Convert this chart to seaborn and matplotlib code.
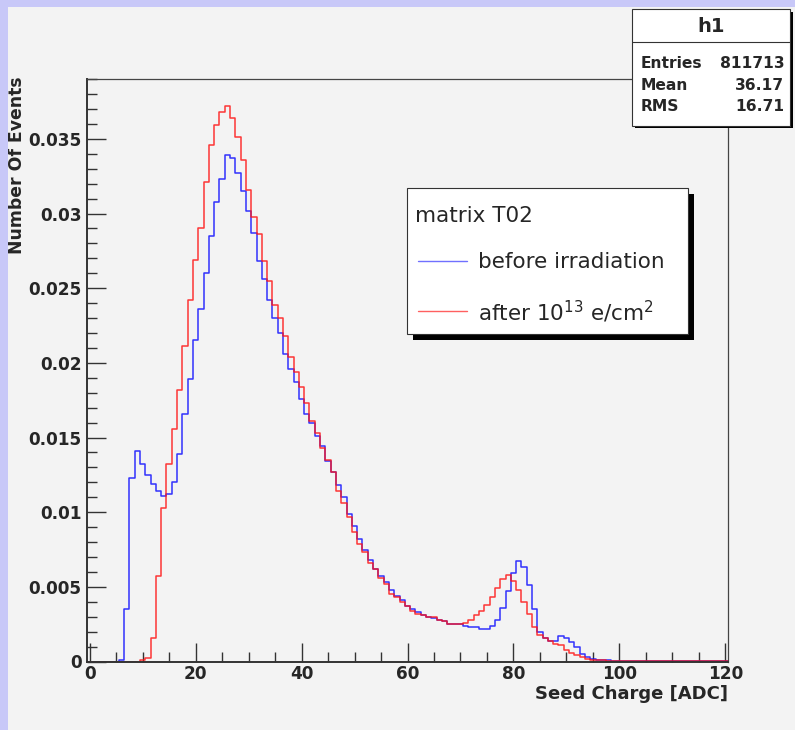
import numpy as np
import pandas as pd
import seaborn as sns
import matplotlib.pyplot as plt
from matplotlib.patches import Rectangle
from matplotlib.ticker import MultipleLocator, FuncFormatter

sns.set_style("ticks")
plt.rcParams["font.family"] = ["DejaVu Sans"]
plt.rcParams["mathtext.default"] = "regular"

# seed charge histogram, bins of 1 ADC centred on 0..120
adc = np.arange(0, 121)
before = [0, 0, 0, 0, 0, 0, 0.0001, 0.0035, 0.0123, 0.0141,
          0.0132, 0.0125, 0.0119, 0.0114, 0.0111, 0.0112, 0.0120, 0.0139, 0.0166, 0.0189,
          0.0215, 0.0236, 0.0260, 0.0285, 0.0308, 0.0323, 0.0339, 0.0337, 0.0327, 0.0315,
          0.0302, 0.0287, 0.0268, 0.0256, 0.0242, 0.0230, 0.0220, 0.0206, 0.0196, 0.0187,
          0.0176, 0.0166, 0.0160, 0.0151, 0.0144, 0.0134, 0.0127, 0.0118, 0.0110, 0.0099,
          0.0091, 0.0082, 0.0075, 0.0068, 0.0062, 0.0057, 0.0053, 0.0048, 0.0044, 0.0041,
          0.0037, 0.0035, 0.0033, 0.0031, 0.0030, 0.0029, 0.0028, 0.0027, 0.0025, 0.0025,
          0.0025, 0.0024, 0.0023, 0.0023, 0.0022, 0.0022, 0.0024, 0.0028, 0.0036, 0.0047,
          0.0059, 0.0067, 0.0063, 0.0051, 0.0035, 0.0020, 0.0016, 0.0014, 0.0014, 0.0017,
          0.0016, 0.0013, 0.0010, 0.0005, 0.0003, 0.00015, 0.0001, 0.0001, 0.00008, 0.00006,
          0.00004, 0.00004, 0.00004, 0.00003, 0.00003, 0.00003, 0.00003, 0.00003, 0.00002, 0.00002,
          0.00002, 0.00002, 0.00002, 0.00002, 0.00002, 0.00002, 0.00002, 0.00002, 0.00002, 0.00002,
          0.00002]
after = [0, 0, 0, 0, 0, 0, 0, 0, 0, 0,
         0.0001, 0.00025, 0.0016, 0.0057, 0.0103, 0.0132, 0.0156, 0.0182, 0.0211, 0.0242,
         0.0269, 0.0290, 0.0321, 0.0346, 0.0359, 0.0368, 0.0372, 0.0364, 0.0351, 0.0336,
         0.0316, 0.0298, 0.0286, 0.0268, 0.0255, 0.0239, 0.0230, 0.0218, 0.0204, 0.0194,
         0.0184, 0.0173, 0.0161, 0.0153, 0.0143, 0.0135, 0.0127, 0.0114, 0.0106, 0.0097,
         0.0087, 0.0079, 0.0073, 0.0066, 0.0062, 0.0056, 0.0052, 0.0045, 0.0043, 0.0040,
         0.0037, 0.0034, 0.0032, 0.0031, 0.0030, 0.0030, 0.0028, 0.0027, 0.0025, 0.0025,
         0.0025, 0.0026, 0.0028, 0.0031, 0.0034, 0.0038, 0.0043, 0.0049, 0.0055, 0.0058,
         0.0054, 0.0048, 0.0040, 0.0032, 0.0023, 0.0018, 0.0016, 0.0014, 0.0012, 0.0011,
         0.0008, 0.0006, 0.00045, 0.0003, 0.0002, 0.00012, 0.0001, 0.00008, 0.00006, 0.00005,
         0.00003, 0.00003, 0.00003, 0.00003, 0.00003, 0.00002, 0.00002, 0.00002, 0.00002, 0.00002,
         0.00002, 0.00002, 0.00002, 0.00002, 0.00002, 0.00002, 0.00002, 0.00002, 0.00002, 0.00002,
         0.00002]

labels = ["before irradiation", "after 10$^{13}$ e/cm$^{2}$"]
colors = ["#1010ff", "#ff1515"]
legend_title = "matrix T02"
stats_name = "h1"
stats_rows = [("Entries", "811713"), ("Mean", "36.17"), ("RMS", "16.71")]

df = pd.concat([
    pd.DataFrame({"adc": adc, "events": before, "sample": labels[0]}),
    pd.DataFrame({"adc": adc, "events": after, "sample": labels[1]}),
], ignore_index=True)

bg = "#f3f3f3"
fig = plt.figure(figsize=(7.95, 7.3), dpi=100, facecolor=bg)
ax = fig.add_axes([87/795, 1-661.5/730, 641/795, (661.5-79)/730], facecolor=bg)

# red first, blue on top
sns.histplot(data=df, x="adc", weights="events", hue="sample",
             binwidth=1, binrange=(-0.5, 120.5),
             element="step", fill=False, palette=dict(zip(labels, colors)),
             hue_order=[labels[1], labels[0]], linewidth=1.1, alpha=0.85,
             legend=False, ax=ax)

ax.set_xlim(-0.5, 120.5)
ax.set_ylim(0, 0.03901)
ax.xaxis.set_major_locator(MultipleLocator(20))
ax.xaxis.set_minor_locator(MultipleLocator(5))
ax.yaxis.set_major_locator(MultipleLocator(0.005))
ax.yaxis.set_minor_locator(MultipleLocator(0.001))
ax.yaxis.set_major_formatter(FuncFormatter(lambda v, p: "%g" % round(v, 4)))
ax.tick_params(which="both", direction="in", top=False, right=False,
               width=1.0, color="#333333", labelsize=12.2)
ax.tick_params(which="major", length=13.5, pad=4)
ax.tick_params(axis="x", which="major", pad=2.5)
ax.tick_params(which="minor", length=7)
for lab in ax.get_xticklabels() + ax.get_yticklabels():
    lab.set_fontweight("bold")
for s in ["left", "bottom"]:
    ax.spines[s].set_linewidth(1.4)
    ax.spines[s].set_color("#333333")
for s in ["top", "right"]:
    ax.spines[s].set_linewidth(0.9)
    ax.spines[s].set_color("#444444")
ax.grid(False)

ax.set_xlabel("Seed Charge [ADC]", loc="right", fontsize=13, fontweight="bold")
ax.set_ylabel("Number Of Events", loc="top", fontsize=12.4, fontweight="bold")
ax.xaxis.set_label_coords(1.0, -0.041)
ax.yaxis.set_label_coords(-0.095, 1.005)

# decorations in pixel coordinates (canvas border, legend, stats box)
ov = fig.add_axes([0, 0, 1, 1], facecolor="none")
ov.set_xlim(0, 795)
ov.set_ylim(730, 0)
ov.axis("off")
ov.add_patch(Rectangle((0, 0), 795, 7, color="#c8c8f8", lw=0))
ov.add_patch(Rectangle((0, 0), 8, 730, color="#c8c8f8", lw=0))

# legend
ov.add_patch(Rectangle((413, 194), 281, 145.5, color="black", lw=0))
ov.add_patch(Rectangle((407.3, 188.3), 281, 145.7, facecolor="white",
                       edgecolor="#333333", lw=0.8))
ov.text(415, 216.5, legend_title, fontsize=15.5, va="center", ha="left")
leg_colors = ["#7070ff", "#ff6060"]
for i, (lab, c) in enumerate(zip(labels, leg_colors)):
    yy = 261 + i * 49.5
    ov.plot([418, 467], [yy, yy], color=c, lw=1.0)
    ov.text(478, yy + 1, lab, fontsize=15.5, va="center", ha="left")

# stats box
ov.add_patch(Rectangle((634.5, 11.5), 158, 116.5, color="black", lw=0))
ov.add_patch(Rectangle((632.3, 9.3), 158, 116.5, facecolor="white",
                       edgecolor="#333333", lw=0.8))
ov.plot([632.3, 790.3], [41.7, 41.7], color="#333333", lw=0.8)
ov.text(711, 26.5, stats_name, fontsize=14, fontweight="bold", ha="center", va="center")
for i, (k, v) in enumerate(stats_rows):
    yy = 63.5 + i * 21.5
    ov.text(640.5, yy, k, fontsize=11.2, fontweight="bold", ha="left", va="center")
    ov.text(784.5, yy, v, fontsize=11.2, fontweight="bold", ha="right", va="center")

fig.savefig("out.png", dpi=100, facecolor=bg)
